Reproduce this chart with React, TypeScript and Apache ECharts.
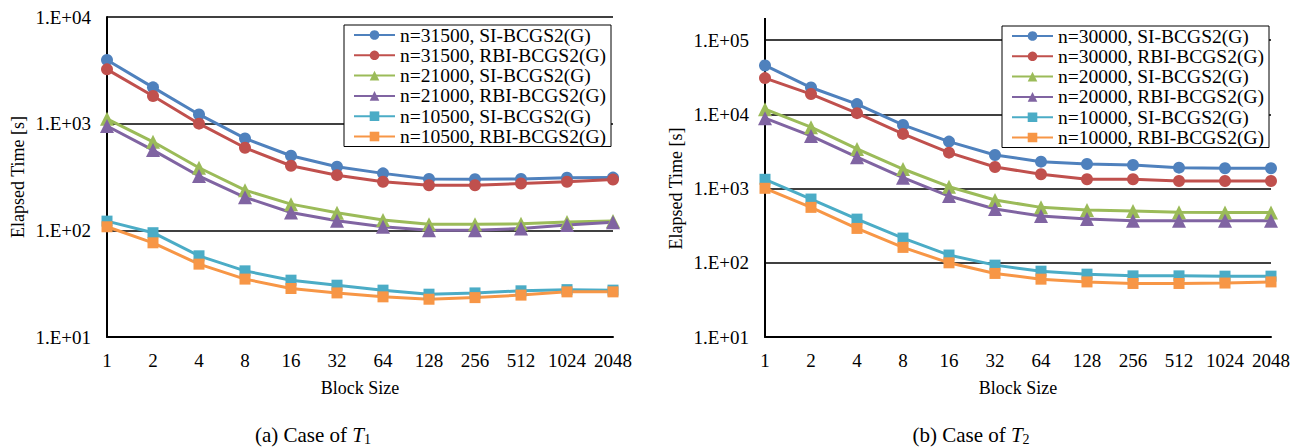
import React, { useEffect, useRef } from "react";
import * as echarts from "echarts";

const blockSizes = ["1", "2", "4", "8", "16", "32", "64", "128", "256", "512", "1024", "2048"];

// (a) Case of T1
const t1Names = [
  "n=31500, SI-BCGS2(G)",
  "n=31500, RBI-BCGS2(G)",
  "n=21000, SI-BCGS2(G)",
  "n=21000, RBI-BCGS2(G)",
  "n=10500, SI-BCGS2(G)",
  "n=10500, RBI-BCGS2(G)",
];
const t1_31500_SI = [3950, 2190, 1220, 727, 500, 394, 342, 303, 302, 303, 311, 312];
const t1_31500_RBI = [3230, 1815, 1000, 594, 403, 329, 285, 265, 265, 275, 285, 300];
const t1_21000_SI = [1110, 676, 386, 238, 176, 146, 125, 114, 114, 115, 120, 122];
const t1_21000_RBI = [950, 565, 323, 204, 147, 123, 108, 100, 100, 104, 112, 119];
const t1_10500_SI = [122, 95, 57.7, 41.7, 34.1, 30.6, 27.5, 25.2, 25.9, 27.1, 27.8, 27.5];
const t1_10500_RBI = [108, 76.4, 48.2, 34.9, 28.5, 25.9, 23.8, 22.6, 23.4, 24.7, 26.5, 26.5];

// (b) Case of T2
const t2Names = [
  "n=30000, SI-BCGS2(G)",
  "n=30000, RBI-BCGS2(G)",
  "n=20000, SI-BCGS2(G)",
  "n=20000, RBI-BCGS2(G)",
  "n=10000, SI-BCGS2(G)",
  "n=10000, RBI-BCGS2(G)",
];
const t2_30000_SI = [45400, 22900, 13700, 7190, 4280, 2830, 2300, 2140, 2070, 1910, 1870, 1870];
const t2_30000_RBI = [30700, 18700, 10350, 5440, 3040, 1950, 1555, 1330, 1330, 1262, 1262, 1262];
const t2_20000_SI = [11700, 6700, 3410, 1830, 1057, 700, 557, 513, 497, 477, 474, 474];
const t2_20000_RBI = [8860, 5110, 2640, 1400, 792, 529, 426, 388, 368, 368, 368, 368];
const t2_10000_SI = [1330, 721, 387, 215, 127, 92.9, 77, 70.2, 66.6, 66.6, 66, 66];
const t2_10000_RBI = [1006, 557, 290, 161, 99.8, 71.8, 60.1, 55.2, 52.6, 52.6, 53.3, 55.2];

const colors = ["#4F81BD", "#C0504D", "#9BBB59", "#8064A2", "#4BACC6", "#F79646"];
const symbols = ["circle", "circle", "triangle", "triangle", "rect", "rect"];
const symbolSizes = [12, 12, 14, 14, 11, 11];

const FONT = "Liberation Serif";

function expLabel(v: number) {
  const e = Math.round(Math.log10(v));
  return "1.E+" + String(e).padStart(2, "0");
}

export default function App() {
  const ref = useRef<HTMLDivElement>(null);
  useEffect(() => {
    if (!ref.current) return;
    const chart = echarts.init(ref.current, null, { renderer: "svg" });

    const t1Data = [t1_31500_SI, t1_31500_RBI, t1_21000_SI, t1_21000_RBI, t1_10500_SI, t1_10500_RBI];
    const t2Data = [t2_30000_SI, t2_30000_RBI, t2_20000_SI, t2_20000_RBI, t2_10000_SI, t2_10000_RBI];

    const mkSeries = (names: string[], data: number[][], idx: number) =>
      names.map((name, i) => ({
        name,
        type: "line",
        xAxisIndex: idx,
        yAxisIndex: idx,
        data: data[i],
        symbol: symbols[i],
        symbolSize: symbolSizes[i],
        color: colors[i],
        lineStyle: { width: 3, color: colors[i] },
        itemStyle: { color: colors[i] },
      }));

    const xAxisCommon = {
      type: "category",
      data: blockSizes,
      boundaryGap: false,
      axisLine: { lineStyle: { color: "#000", width: 2 } },
      axisTick: { show: false },
      axisLabel: { color: "#000", fontFamily: FONT, fontSize: 19, margin: 14, interval: 0 },
      name: "Block Size",
      nameLocation: "middle",
      nameGap: 42,
      nameTextStyle: { color: "#000", fontFamily: FONT, fontSize: 18 },
    };
    const yAxisCommon = {
      type: "log",
      logBase: 10,
      min: 10,
      axisLine: { show: true, lineStyle: { color: "#000", width: 2 } },
      axisTick: { show: false },
      splitLine: { show: true, lineStyle: { color: "#000", width: 1.5 } },
      axisLabel: { color: "#000", fontFamily: FONT, fontSize: 19, margin: 16, formatter: (v: number) => expLabel(v) },
      name: "Elapsed Time [s]",
      nameLocation: "middle",
      nameGap: 80,
      nameTextStyle: { color: "#000", fontFamily: FONT, fontSize: 18 },
    };

    const legendCommon = {
      orient: "vertical",
      backgroundColor: "#fff",
      borderColor: "#000",
      borderWidth: 1,
      padding: [0, 5, 0, 9],
      itemWidth: 41,
      itemHeight: 12,
      itemGap: 0.3,
      textStyle: { color: "#000", fontFamily: FONT, fontSize: 19.5, lineHeight: 20 },
    };

    const rich = {
      it: { fontFamily: FONT, fontSize: 21, fontStyle: "italic", fill: "#000" },
      sub: { fontFamily: FONT, fontSize: 14, fill: "#000", padding: [8, 0, 0, 0] },
    };

    chart.setOption({
      animation: false,
      backgroundColor: "#fff",
      textStyle: { fontFamily: FONT, color: "#000" },
      grid: [
        { left: 107, top: 17, width: 506, height: 320 },
        { left: 765, top: 40, width: 506, height: 297 },
      ],
      xAxis: [
        { ...xAxisCommon, gridIndex: 0 },
        { ...xAxisCommon, gridIndex: 1 },
      ],
      yAxis: [
        { ...yAxisCommon, gridIndex: 0, max: 10000 },
        { ...yAxisCommon, gridIndex: 1, max: 100000 },
      ],
      legend: [
        { ...legendCommon, left: 344, top: 25, data: t1Names },
        { ...legendCommon, left: 1002, top: 26, data: t2Names },
      ],
      series: [...mkSeries(t1Names, t1Data, 0), ...mkSeries(t2Names, t2Data, 1)],
      graphic: [
        {
          type: "line",
          shape: { x1: 765, y1: 18, x2: 765, y2: 40 },
          style: { stroke: "#000", lineWidth: 2 },
        },
        {
          type: "text",
          x: 313,
          y: 435,
          style: {
            text: "(a) Case of {it|T}{sub|1}",
            align: "center",
            verticalAlign: "middle",
            fill: "#000",
            font: `21px "${FONT}"`,
            rich,
          },
        },
        {
          type: "text",
          x: 971,
          y: 435,
          style: {
            text: "(b) Case of {it|T}{sub|2}",
            align: "center",
            verticalAlign: "middle",
            fill: "#000",
            font: `21px "${FONT}"`,
            rich,
          },
        },
      ],
    });
    return () => chart.dispose();
  }, []);
  return <div ref={ref} style={{ position: "absolute", left: 0, top: 0, width: 1305, height: 448 }} />;
}
